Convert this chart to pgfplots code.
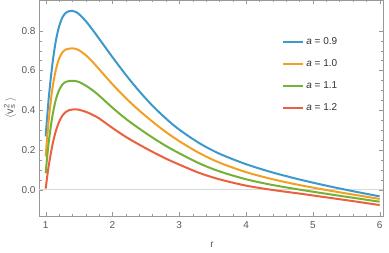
\documentclass[border=0pt]{standalone}
\usepackage{pgfplots}
\pgfplotsset{compat=1.18}
\usepackage{fontspec}
\setmainfont{Liberation Sans}
\definecolor{c1}{rgb}{0.24,0.6,0.8}
\definecolor{c2}{rgb}{0.95,0.627,0.1425}
\definecolor{c3}{rgb}{0.455,0.7,0.21}
\definecolor{c4}{rgb}{0.922,0.38,0.24}
\definecolor{fr}{gray}{0.6}
\definecolor{tl}{gray}{0.35}
\begin{document}
\begin{tikzpicture}
\begin{axis}[
  scale only axis, width=344pt, height=216pt,
  xmin=0.9, xmax=6.05, ymin=-0.133, ymax=0.955,
  axis line style={fr},
  tick style={fr},
  tick align=inside,
  xtick={1,2,3,4,5,6}, ytick={0,0.2,0.4,0.6,0.8},
  minor x tick num=4, minor y tick num=3,
  major tick length=4pt, minor tick length=2.5pt,
  extra y ticks={0}, extra y tick labels={},
  extra y tick style={grid=major, major grid style={gray!30, line width=0.8pt}, major tick length=0pt},
  /pgf/number format/assume math mode=true,
  /pgf/number format/.cd, fixed, fixed zerofill, precision=1, /pgfplots/.cd,
  xticklabel={\pgfmathprintnumber[precision=0,fixed zerofill=false]{\tick}},
  ticklabel style={font=\fontsize{10}{12}\selectfont, text=tl},
  xticklabel style={yshift=-2pt},
  xlabel={r}, ylabel={\(\langle\)v\rlap{\textsubscript{s}}\textsuperscript{2}\,\(\rangle\)},
  label style={font=\fontsize{10}{12}\selectfont, text=tl},
  xlabel style={at={(axis description cs:0.503,0)}, anchor=center, yshift=-29pt},
  ylabel style={at={(axis description cs:-0.084,0.5)}, anchor=center, font=\fontsize{11}{13}\selectfont},
  legend style={draw=none, fill=none, at={(rel axis cs:0.698,0.844)}, anchor=north west,
    font=\fontsize{10}{12}\selectfont, row sep=9.5pt, text=black!80},
  legend cell align=left,
  legend image code/.code={\draw[#1, line width=2pt] (0pt,0pt) -- (20pt,0pt);},
  clip=true,
]
\addplot[c1, line width=2pt, smooth, tension=0.5] coordinates {
(1.00,0.268) (1.02,0.357) (1.05,0.476) (1.10,0.630) (1.15,0.745) (1.20,0.821) (1.25,0.867)
(1.30,0.890) (1.35,0.899) (1.40,0.900) (1.45,0.895) (1.50,0.8835) (1.60,0.849) (1.70,0.806)
(1.80,0.760) (2.00,0.667) (2.20,0.578) (2.40,0.496) (2.60,0.422) (2.80,0.358) (3.00,0.302)
(3.30,0.234) (3.60,0.181) (4.00,0.128) (4.40,0.086) (4.80,0.051) (5.20,0.020) (5.60,-0.008) (6.00,-0.034)};
\addlegendentry{\textit{a} = 0.9}
\addplot[c2, line width=2pt, smooth, tension=0.5] coordinates {
(1.00,0.167) (1.02,0.254) (1.05,0.366) (1.10,0.507) (1.15,0.600) (1.20,0.659) (1.25,0.691)
(1.30,0.7055) (1.35,0.710) (1.41,0.711) (1.45,0.709) (1.50,0.702) (1.60,0.677) (1.70,0.644)
(1.80,0.6065) (2.00,0.5305) (2.20,0.4605) (2.40,0.3985) (2.60,0.342) (2.80,0.290) (3.00,0.244)
(3.30,0.184) (3.60,0.136) (4.00,0.088) (4.40,0.052) (4.80,0.023) (5.20,-0.002) (5.60,-0.025) (6.00,-0.047)};
\addlegendentry{\textit{a} = 1.0}
\addplot[c3, line width=2pt, smooth, tension=0.5] coordinates {
(1.00,0.082) (1.02,0.156) (1.05,0.250) (1.10,0.3695) (1.15,0.450) (1.20,0.5005) (1.25,0.529)
(1.30,0.5424) (1.35,0.547) (1.42,0.548) (1.50,0.542) (1.60,0.524) (1.70,0.501)
(1.80,0.4735) (2.00,0.4125) (2.20,0.3565) (2.40,0.3075) (2.60,0.262) (2.80,0.220) (3.00,0.183)
(3.30,0.132) (3.60,0.092) (4.00,0.052) (4.40,0.023) (4.80,0.000) (5.20,-0.021) (5.60,-0.041) (6.00,-0.061)};
\addlegendentry{\textit{a} = 1.1}
\addplot[c4, line width=2pt, smooth, tension=0.5] coordinates {
(1.00,0.005) (1.02,0.0585) (1.05,0.129) (1.10,0.2232) (1.15,0.2925) (1.20,0.3408) (1.25,0.3723)
(1.30,0.3908) (1.35,0.400) (1.40,0.4034) (1.46,0.404) (1.50,0.402) (1.60,0.392) (1.70,0.377)
(1.80,0.3585) (2.00,0.3105) (2.20,0.2655) (2.40,0.2265) (2.60,0.190) (2.80,0.156) (3.00,0.126)
(3.30,0.084) (3.60,0.052) (4.00,0.020) (4.40,-0.002) (4.80,-0.020) (5.20,-0.039) (5.60,-0.058) (6.00,-0.078)};
\addlegendentry{\textit{a} = 1.2}
\end{axis}
\pgfresetboundingbox
\useasboundingbox ([xshift=-39pt,yshift=-36pt]current axis.south west) rectangle ([xshift=6pt]current axis.north east);
\end{tikzpicture}
\end{document}
